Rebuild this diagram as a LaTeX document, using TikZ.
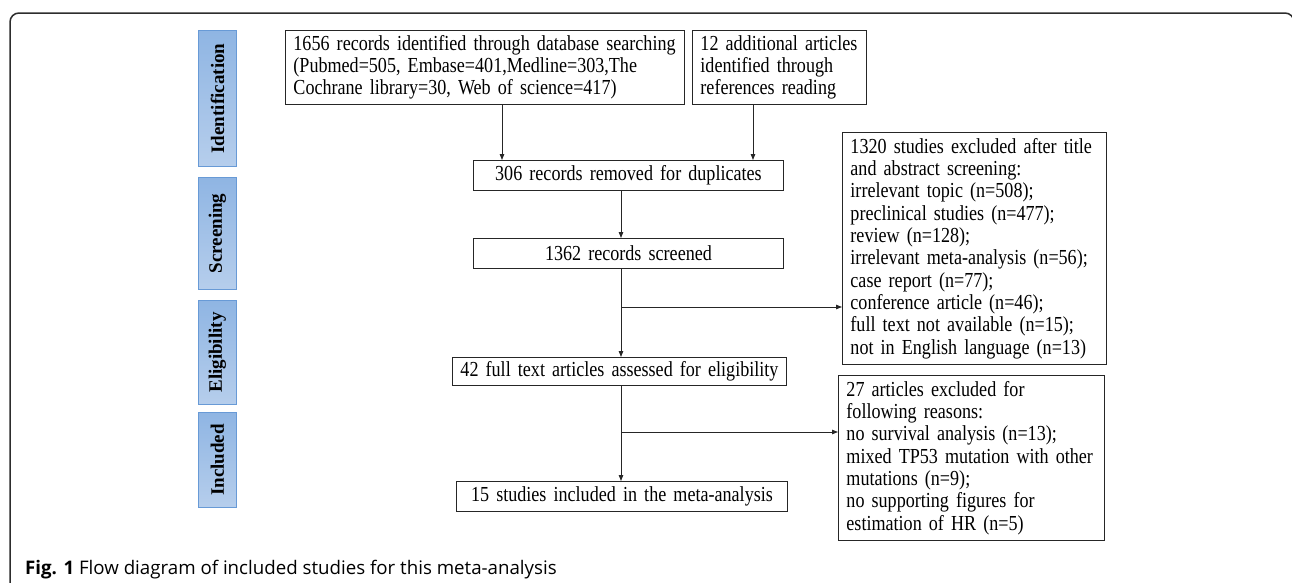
\documentclass[tikz,border=0pt]{standalone}
\usepackage{fontspec}
\setmainfont[FakeStretch=0.845]{Liberation Serif}
\newfontfamily\phfont{Liberation Serif}
\newfontfamily\capfont{Open Sans}
\usetikzlibrary{arrows.meta}
\definecolor{phtop}{RGB}{143,181,227}
\definecolor{phbot}{RGB}{182,206,236}
\definecolor{phline}{RGB}{104,154,214}
\definecolor{frm}{RGB}{45,45,45}
\newcommand{\myboxfont}{\fontsize{21.4}{22.3}\selectfont\spaceskip=4.3pt plus 1pt minus 0.5pt\relax}
\begin{document}
\begin{tikzpicture}[x=1pt,y=-1pt,
  box/.style={draw=black!85, line width=0.9pt, inner xsep=8pt, inner ysep=0pt,
    font=\myboxfont, anchor=north west},
  lbox/.style={box, align=left},
  cbox/.style={box, align=center},
  phase/.style={draw=phline, line width=1pt, top color=phtop, bottom color=phbot,
    anchor=north west, minimum width=38pt, inner sep=0pt,
    font=\phfont\fontsize{19}{22}\selectfont\bfseries},
  arr/.style={draw=black!85, line width=0.9pt, -{Triangle[length=6pt,width=4.5pt]}}]
\useasboundingbox (0,0) rectangle (1292,582);
\begin{scope}
  \clip (0,0) rectangle (1292,582);
  \draw[frm, line width=1.5pt, rounded corners=9pt] (10,640) -- (10,13) -- (1294,13) -- (1294,640);
\end{scope}

% phase labels
\node[phase, minimum height=136pt] (p1) at (198,30) {\rotatebox{90}{Identification}};
\node[phase, minimum height=112pt] (p2) at (198,177) {\rotatebox{90}{Screening}};
\node[phase, minimum height=104pt] (p3) at (198,300) {\rotatebox{90}{Eligibility}};
\node[phase, minimum height=95pt] (p4) at (198,412) {\rotatebox{90}{Included}};

% boxes
\node[lbox, minimum width=399pt, minimum height=74pt, text width=383pt] (A) at (285,30)
  {1656 records identified through database searching\\(Pubmed=505, Embase=401,Medline=303,The\\Cochrane library=30, Web of science=417)};
\node[lbox, minimum width=174pt, minimum height=74pt, text width=158pt] (B) at (692,30)
  {12 additional articles\\identified through\\references reading};
\node[cbox, minimum width=310pt, minimum height=30pt, text width=294pt] (C) at (473,160)
  {306 records removed for duplicates};
\node[cbox, minimum width=310pt, minimum height=30pt, text width=294pt] (D) at (473,238)
  {1362 records screened};
\node[cbox, minimum width=334pt, minimum height=28pt, text width=318pt] (E) at (452,357)
  {42 full text articles assessed for eligibility};
\node[cbox, minimum width=331pt, minimum height=30pt, text width=315pt] (G) at (456,481)
  {15 studies included in the meta-analysis};
\node[lbox, minimum width=264pt, minimum height=232pt, text width=248pt] (F) at (842,132)
  {1320 studies excluded after title\\and abstract screening:\\irrelevant topic (n=508);\\preclinical studies (n=477);\\review (n=128);\\irrelevant meta-analysis (n=56);\\case report (n=77);\\conference article (n=46);\\full text not available (n=15);\\not in English language (n=13)};
\node[lbox, minimum width=266pt, minimum height=165pt, text width=250pt] (H) at (838,375)
  {27 articles excluded for\\following reasons:\\no survival analysis (n=13);\\mixed TP53 mutation with other\\mutations (n=9);\\no supporting figures for\\estimation of HR (n=5)};

% connectors
\coordinate (xa) at (502,0);
\coordinate (xb) at (753,0);
\coordinate (xm) at (621,0);
\coordinate (j1) at (621,307);
\coordinate (j2) at (621,432);
\draw[arr] (A.south -| xa) -- (C.north -| xa);
\draw[arr] (B.south -| xb) -- (C.north -| xb);
\draw[arr] (C.south -| xm) -- (D.north -| xm);
\draw[arr] (D.south -| xm) -- (E.north -| xm);
\draw[arr] (j1) -- (j1 -| F.west);
\draw[arr] (E.south -| xm) -- (G.north -| xm);
\draw[arr] (j2) -- (j2 -| H.west);

% caption
\node[anchor=base west, inner sep=0pt, font=\capfont\fontsize{18.7}{22}\selectfont] (cap) at (25,574)
  {\textbf{Fig. 1} Flow diagram of included studies for this meta-analysis};
\end{tikzpicture}
\end{document}
